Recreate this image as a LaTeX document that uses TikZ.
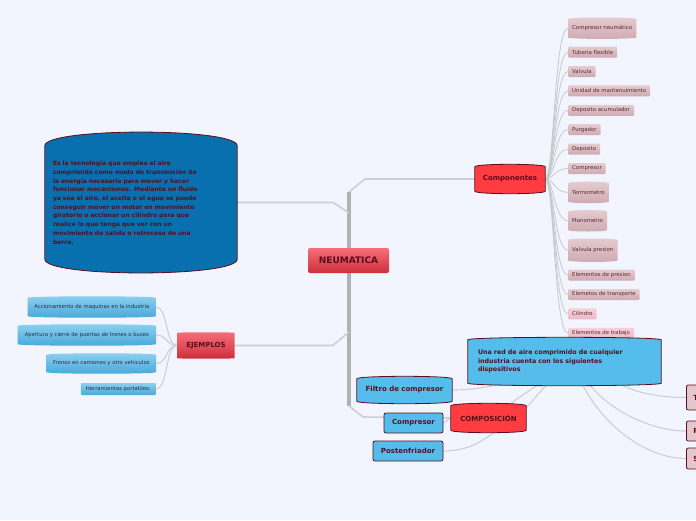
\documentclass[tikz,border=0pt]{standalone}
\usepackage{fontspec}
\setmainfont{DejaVu Sans}
\usetikzlibrary{positioning}
\pgfdeclarelayer{back}
\pgfdeclarelayer{lower}
\pgfdeclarelayer{shapes}
\pgfsetlayers{back,lower,shapes,main}

\definecolor{pagebg}{RGB}{242,245,253}
\definecolor{maroon}{RGB}{88,14,30}
\definecolor{redtop}{RGB}{247,110,120}
\definecolor{redbot}{RGB}{206,46,60}
\definecolor{topicred}{RGB}{255,60,66}
\definecolor{deepblue}{RGB}{8,112,175}
\definecolor{skyblue}{RGB}{85,189,235}
\definecolor{extop}{RGB}{140,208,240}
\definecolor{exbot}{RGB}{72,168,218}
\definecolor{pinktop}{RGB}{229,204,208}
\definecolor{pinkbot}{RGB}{206,170,177}
\definecolor{lpinktop}{RGB}{246,208,216}
\definecolor{lpinkbot}{RGB}{236,186,198}
\definecolor{cutpink}{RGB}{226,200,204}
\definecolor{itemtext}{RGB}{92,40,52}
\definecolor{extext}{RGB}{40,46,66}
\definecolor{trunkgray}{RGB}{175,177,179}
\definecolor{linegray}{RGB}{205,207,210}
\definecolor{fangray}{RGB}{198,200,204}

% bulging outline behind a node: [bulge]{node}{path options}
\newcommand{\barrelshape}[3][3pt]{%
  \begin{pgfonlayer}{shapes}
    \path[#3] ([yshift=-#1]#2.north west)
      .. controls ([yshift=#1/3]#2.north west) and ([yshift=#1/3]#2.north east) .. ([yshift=-#1]#2.north east)
      -- ([yshift=#1]#2.south east)
      .. controls ([yshift=-#1/3]#2.south east) and ([yshift=-#1/3]#2.south west) .. ([yshift=#1]#2.south west)
      -- cycle;
  \end{pgfonlayer}}

\begin{document}
\begin{tikzpicture}[x=1pt, y=-1pt,
  central/.style={rounded corners=2pt, top color=redtop, bottom color=redbot, text=maroon,
    font=\fontsize{9}{10}\selectfont\bfseries, minimum width=81pt, minimum height=25pt, inner sep=0pt},
  topic/.style={text=maroon, font=\fontsize{7}{8}\selectfont\bfseries, minimum height=28pt, inner sep=0pt},
  topicshape/.style={fill=topicred, draw=maroon, line width=0.8pt, rounded corners=2pt},
  defbox/.style={text=maroon, align=left, text width=176pt, font=\fontsize{6}{8.7}\selectfont\bfseries,
    minimum width=192pt, minimum height=139pt, inner sep=0pt},
  item/.style={text=itemtext, font=\fontsize{5.4}{6}\selectfont, inner xsep=4pt, inner ysep=1.5pt,
    minimum height=11pt, rounded corners=1pt, top color=pinktop, bottom color=pinkbot},
  itemb/.style={text=itemtext, font=\fontsize{5.4}{6}\selectfont, inner xsep=4pt, inner ysep=1.5pt,
    minimum height=20pt},
  pinkshape/.style={top color=pinktop, bottom color=pinkbot, rounded corners=2pt},
  exitem/.style={text=extext, font=\fontsize{5.3}{6}\selectfont, inner xsep=4pt, inner ysep=1.5pt,
    minimum height=20pt, anchor=east},
  exshape/.style={top color=extop, bottom color=exbot, rounded corners=2pt},
  skytext/.style={text=maroon, font=\fontsize{7}{8}\selectfont\bfseries, inner sep=0pt},
  skyshape/.style={fill=skyblue, draw=maroon, line width=0.8pt, rounded corners=2pt},
  skybox/.style={skytext, fill=skyblue, draw=maroon, line width=0.8pt, rounded corners=2pt,
    minimum height=20pt},
  cutbox/.style={fill=cutpink, draw=maroon, line width=0.8pt, rounded corners=2pt, text=maroon,
    font=\fontsize{7}{8}\selectfont\bfseries, anchor=west, minimum width=60pt, text width=46pt,
    align=left, inner xsep=7pt},
  trunk/.style={draw=trunkgray, line width=3.5pt},
  branch/.style={draw=linegray, line width=1.6pt},
  thin/.style={draw=linegray, line width=1.1pt},
  fan/.style={draw=fangray, line width=0.8pt}
]
\useasboundingbox (0,0) rectangle (696,520);
\begin{pgfonlayer}{back}
  \fill[pagebg] (0,0) rectangle (696,520);
\end{pgfonlayer}
\clip (0,0) rectangle (696,520);

% trunk points
\coordinate (tTop) at (349,192);
\coordinate (tBot) at (349,406);
\coordinate (tDef) at (349,213);
\coordinate (tEx) at (349,332);

% main topic
\node[central] (neu) at (348.5,260.5) {NEUMATICA};

% definition
\node[defbox] (def) at (141,202.5) {Es la tecnología que emplea el aire\\
  comprimido como modo de transmisión de\\
  la energía necesaria para mover y hacer\\
  funcionar mecanismos. Mediante un fluido\\
  ya sea el aire, el aceite o el agua se puede\\
  conseguir mover un motor en movimiento\\
  giratorio o accionar un cilindro para que\\
  realice lo que tenga que ver con un\\
  movimiento de salida o retroceso de una\\
  barra.};
\barrelshape[16pt]{def}{fill=deepblue, draw=maroon, line width=0.8pt, rounded corners=3pt}

% componentes
\node[topic, minimum width=70pt] (cmp) at (510,179) {Componentes};
\barrelshape[4pt]{cmp}{topicshape}

\node[itemb, anchor=north west] (c1) at (568,18) {Compresor neumático};
\barrelshape{c1}{pinkshape}
\node[item, below=8pt of c1.south west, anchor=north west] (c2) {Tuberia flexible};
\node[item, below=8pt of c2.south west, anchor=north west] (c3) {Valvula};
\node[item, below=8pt of c3.south west, anchor=north west] (c4) {Unidad de mantenuimiento};
\node[item, below=8pt of c4.south west, anchor=north west] (c5) {Deposito acumulador};
\node[item, below=8pt of c5.south west, anchor=north west] (c6) {Purgador};
\node[item, below=8pt of c6.south west, anchor=north west] (c7) {Deposito};
\node[item, below=8pt of c7.south west, anchor=north west] (c8) {Compresor};
\node[itemb, below=8pt of c8.south west, anchor=north west] (c9) {Termometro};
\barrelshape{c9}{pinkshape}
\node[itemb, below=8pt of c9.south west, anchor=north west] (c10) {Manometro};
\barrelshape{c10}{pinkshape}
\node[itemb, minimum height=22pt, below=8pt of c10.south west, anchor=north west] (c11) {Valvula presion};
\barrelshape{c11}{pinkshape}
\node[item, below=8pt of c11.south west, anchor=north west] (c12) {Elementos de presion};
\node[item, below=8pt of c12.south west, anchor=north west] (c13) {Elemetos de transporte};
\node[item, top color=lpinktop, bottom color=lpinkbot, below=8pt of c13.south west, anchor=north west] (c14) {Cilindro};
\begin{pgfonlayer}{lower}
\node[item, top color=lpinktop, bottom color=lpinkbot, below=8pt of c14.south west, anchor=north west] (c15) {Elementos de trabajo};
\end{pgfonlayer}

% ejemplos
\node[topic, minimum width=57pt, minimum height=25pt] (ejm) at (206,345.5) {EJEMPLOS};
\barrelshape[2pt]{ejm}{top color=redtop, bottom color=redbot, rounded corners=2pt}

\node[exitem, minimum width=128pt] (ex1) at (156,307) {Accionamiento de maquinas en la industria};
\barrelshape{ex1}{exshape}
\node[exitem, minimum width=138pt] (ex2) at (156,335) {Apertura y cierre de puertas de trenes o buses};
\barrelshape{ex2}{exshape}
\node[exitem, minimum width=109pt, minimum height=19pt] (ex3) at (156,363.5) {Frenos en camiones y otro vehiculos};
\barrelshape{ex3}{exshape}
\node[exitem, minimum width=75pt, minimum height=12pt, rounded corners=1pt, top color=extop, bottom color=exbot] (ex4) at (156,389) {Herramientas portatiles:};

% composicion
\node[topic, minimum width=75pt] (cps) at (488.5,418) {COMPOSICIÓN};
\barrelshape[4pt]{cps}{topicshape}

\node[skytext, text width=173pt, align=left, font=\fontsize{6.3}{8.5}\selectfont\bfseries,
  minimum width=193pt, minimum height=47pt] (red) at (564.5,361.5) {Una red de aire comprimido de cualquier\\
  industria cuenta con los siguientes\\
  dispositivos};
\barrelshape[4pt]{red}{skyshape}

\node[skytext, minimum width=95pt, minimum height=26pt] (flt) at (404.5,390) {Filtro de compresor};
\barrelshape[4pt]{flt}{skyshape}
\node[skybox, minimum width=59pt] (cpr) at (413.5,423) {Compresor};
\node[skybox, minimum width=70pt] (pst) at (408,451) {Postenfriador};

\node[cutbox, minimum height=25pt] (r1) at (686,397.5) {T};
\node[cutbox, minimum height=20pt] (r2) at (686,431) {P};
\node[cutbox, minimum height=21pt] (r3) at (686,458.5) {S};

% connectors
\begin{pgfonlayer}{back}
\draw[trunk] (tTop) -- (tBot);
\draw[branch] (tTop) -- ++(16,-13) -- (cmp.west);
\draw[branch] (def.east) -- ++(96,0) -- (tDef);
\draw[branch] (ejm.east) -- ++(98,0) -- (tEx);
\draw[branch] (tBot) -- ++(14,11) -- (cps.west);

\foreach \i in {1,...,15}
  \draw[fan] (cmp.east) .. controls +(9,0) and +(-14,0) .. (c\i.west);
\foreach \i in {1,...,4}
  \draw[thin] (ejm.west) .. controls +(-12,0) and +(12,0) .. (ex\i.east);

\draw[thin] (cpr.east) -- (cps.west);
\draw[thin] (flt.east) .. controls +(20,0) and +(-15,2) .. ([xshift=-67pt]red.south);
\draw[thin] ([xshift=21.5pt]cps.north) -- ([xshift=-27.5pt]red.south);
\draw[thin] ([yshift=-4pt]cps.north east) -- ([xshift=-18.5pt]red.south);
\draw[thin] (pst.east) .. controls +(28,0) and +(-10,6) .. ([xshift=6.5pt]cps.south);
\draw[thin] ([xshift=58pt]red.south) .. controls +(15,8) and +(-25,0) .. (r1.west);
\draw[thin] ([xshift=25.5pt]red.south) .. controls +(20,25) and +(-35,0) .. (r2.west);
\draw[thin] ([xshift=18.5pt]red.south) .. controls +(20,40) and +(-40,0) .. (r3.west);
\end{pgfonlayer}
\end{tikzpicture}
\end{document}
